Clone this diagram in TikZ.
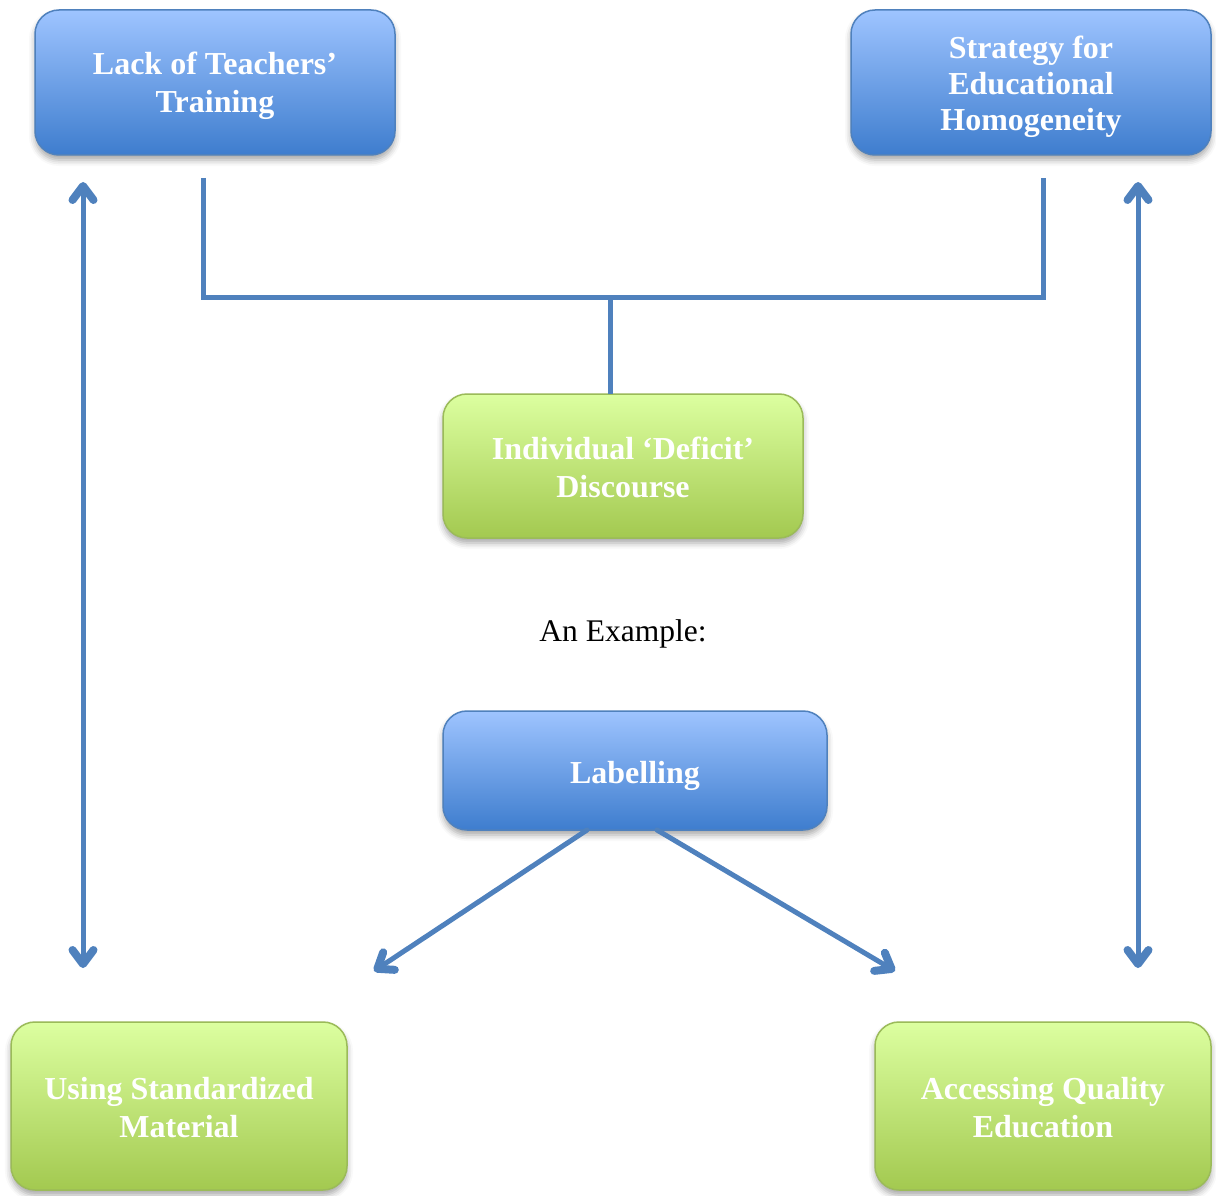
\documentclass[tikz,border=0pt]{standalone}
\usepackage{fontspec}
\setmainfont{Liberation Serif}
\usetikzlibrary{arrows.meta,shadows.blur}
\definecolor{linkblue}{RGB}{79,129,189}
\definecolor{bluetop}{RGB}{158,196,255}
\definecolor{bluebot}{RGB}{62,125,206}
\definecolor{blueedge}{RGB}{79,129,189}
\definecolor{greentop}{RGB}{220,255,160}
\definecolor{greenbot}{RGB}{163,201,80}
\definecolor{greenedge}{RGB}{155,187,89}
\tikzset{
  box/.style={rounded corners=24pt, line width=1.5pt, inner sep=0pt, outer sep=0pt,
    blur shadow={shadow xshift=0pt, shadow yshift=-5pt, shadow blur radius=6pt, shadow opacity=35}},
  bluebox/.style={box, draw=blueedge, top color=bluetop, bottom color=bluebot},
  greenbox/.style={box, draw=greenedge, top color=greentop, bottom color=greenbot},
  boxtext/.style={align=center, text=white, inner sep=0pt, font=\bfseries\fontsize{32}{38}\selectfont},
  link/.style={draw=linkblue, line width=5pt},
  tip/.style={link, line cap=round, line join=round},
  barb/.tip={Straight Barb[length=14pt,width=21pt,line width'=8pt,line cap=round,line join=round]}
}
\begin{document}
\begin{tikzpicture}[x=1pt,y=-1pt]
\useasboundingbox (0,0) rectangle (1216,1196);

% boxes
\node[bluebox, minimum width=360pt, minimum height=145pt] (lack) at (215,82.5) {};
\node[bluebox, minimum width=360pt, minimum height=145pt] (strat) at (1031,82.5) {};
\node[greenbox, minimum width=360pt, minimum height=144pt] (deficit) at (623,466) {};
\node[bluebox, minimum width=384pt, minimum height=119pt] (label) at (635,770.5) {};
\node[greenbox, minimum width=336pt, minimum height=168pt] (std) at (179,1106) {};
\node[greenbox, minimum width=336pt, minimum height=168pt] (qual) at (1043,1106) {};

% box captions
\node[boxtext] (lacktext) at (215,85.5) {Lack of Teachers’\\Training};
\node[boxtext, font=\bfseries\fontsize{32}{36}\selectfont] (strattext) at (1031,86.5) {Strategy for\\Educational\\Homogeneity};
\node[boxtext] (deficittext) at (623,467) {Individual ‘Deficit’\\Discourse};
\node[boxtext] (labeltext) at (635,775.5) {Labelling};
\node[boxtext] (stdtext) at (179,1108) {Using Standardized\\Material};
\node[boxtext] (qualtext) at (1043,1108) {Accessing Quality\\Education};

\node[font=\fontsize{31.5}{38}\selectfont] (example) at (623,634) {An Example:};

% bracket joining the two upper boxes to the deficit discourse
\coordinate (bl) at (203,178);
\coordinate (br) at (1043,178);
\coordinate (bm) at (610,297);
\draw[link] (bl) |- (bm) -| (br);
\draw[link] (bm) -- (bm |- deficit.north);

% long double-headed arrows on the sides
\coordinate (lt) at (83,182);
\coordinate (lb) at (83,968);
\coordinate (rt) at (1138,182);
\coordinate (rb) at (1138,968);
\draw[tip, {barb}-{barb}] (lt) -- (lb);
\draw[tip, {barb}-{barb}] (rt) -- (rb);

% arrows out of the labelling box
\coordinate (ll) at (374,971);
\coordinate (lr) at (895,971);
\draw[tip, -{barb}] (label.south -| 587,0) -- (ll);
\draw[tip, -{barb}] (label.south -| 657,0) -- (lr);
\end{tikzpicture}
\end{document}
